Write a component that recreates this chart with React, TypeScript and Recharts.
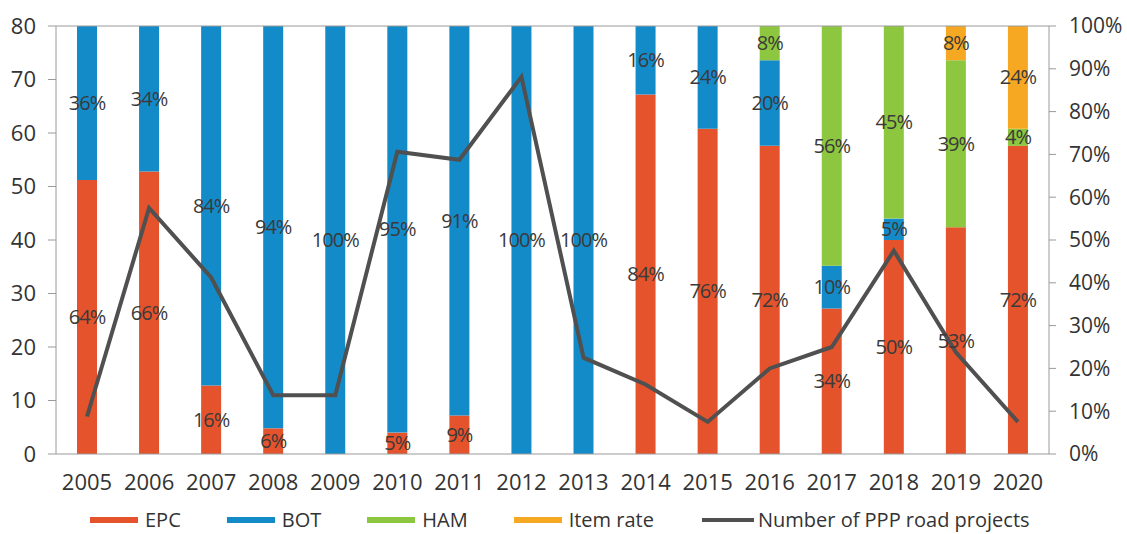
import React from 'react';
import {
  ComposedChart, Bar, Line, XAxis, YAxis, Legend, LabelList, ReferenceLine,
} from 'recharts';

const years = ['2005','2006','2007','2008','2009','2010','2011','2012','2013','2014','2015','2016','2017','2018','2019','2020'];
const epc  = [64, 66, 16, 6, 0, 5, 9, 0, 0, 84, 76, 72, 34, 50, 53, 72];
const bot  = [36, 34, 84, 94, 100, 95, 91, 100, 100, 16, 24, 20, 10, 5, 0, 0];
const ham  = [0, 0, 0, 0, 0, 0, 0, 0, 0, 0, 0, 8, 56, 45, 39, 4];
const itemRate = [0, 0, 0, 0, 0, 0, 0, 0, 0, 0, 0, 0, 0, 0, 8, 24];
const pppProjects = [7, 46, 33, 11, 11, 56.5, 55, 70.5, 18, 13, 6, 16, 20, 38, 19, 6];

const leftTicks = [0, 10, 20, 30, 40, 50, 60, 70, 80];
const rightTicks = [0, 10, 20, 30, 40, 50, 60, 70, 80, 90, 100];

const series = [
  { key: 'EPC', name: 'EPC', values: epc, color: '#E5532D' },
  { key: 'BOT', name: 'BOT', values: bot, color: '#148BC9' },
  { key: 'HAM', name: 'HAM', values: ham, color: '#8DC63F' },
  { key: 'Item', name: 'Item rate', values: itemRate, color: '#F7A823' },
];
const lineName = 'Number of PPP road projects';
const lineColor = '#505050';

const data = years.map((y, i) => {
  const row: any = { year: y, ppp: pppProjects[i] };
  series.forEach((s) => { row[s.key] = s.values[i]; });
  return row;
});

const FONT = '"Open Sans", sans-serif';
const TEXT = '#333333';
const AXIS = '#9a9a9a';

const fmt = (v: any) => (v && Number(v) > 0 ? `${v}%` : '');

const LegendContent = () => (
  <div style={{ display: 'flex', alignItems: 'center', height: 35, paddingLeft: 90, paddingTop: 6, boxSizing: 'border-box', fontFamily: FONT, fontSize: 20, color: TEXT }}>
    {series.map((s) => (
      <div key={s.key} style={{ display: 'flex', alignItems: 'center', marginRight: 46 }}>
        <span style={{ display: 'inline-block', width: 48, height: 6, background: s.color, marginRight: 7 }} />
        <span>{s.name}</span>
      </div>
    ))}
    <div style={{ display: 'flex', alignItems: 'center', marginLeft: 2 }}>
      <span style={{ display: 'inline-block', width: 52, height: 4, background: lineColor, marginRight: 4 }} />
      <span>{lineName}</span>
    </div>
  </div>
);

export default function App() {
  return (
    <div style={{ position: 'absolute', left: 0, top: 0, background: '#fff' }}>
      <ComposedChart
        width={1127}
        height={534}
        data={data}
        margin={{ top: 26, right: 0, left: 0, bottom: 0 }}
        barSize={20}
      >
        <XAxis
          dataKey="year"
          height={45}
          tickLine={false}
          tickMargin={14}
          stroke={AXIS}
          tick={{ fill: TEXT, fontSize: 22, fontFamily: FONT }}
          interval={0}
        />
        <YAxis
          yAxisId="left"
          orientation="left"
          domain={[0, 80]}
          ticks={leftTicks}
          width={56}
          tickSize={8}
          tickMargin={12}
          stroke={AXIS}
          tick={{ fill: TEXT, fontSize: 22, fontFamily: FONT }}
          interval={0}
        />
        <YAxis
          yAxisId="right"
          orientation="right"
          domain={[0, 100]}
          ticks={rightTicks}
          width={78}
          tickSize={7}
          tickMargin={13}
          stroke={AXIS}
          tickFormatter={(v) => `${v}%`}
          tick={{ fill: TEXT, fontSize: 21, fontFamily: FONT, textAnchor: 'start' }}
          interval={0}
        />
        <ReferenceLine yAxisId="left" y={80} stroke={AXIS} strokeWidth={1} ifOverflow="extendDomain" />
        {series.map((s) => (
          <Bar
            key={s.key}
            dataKey={s.key}
            name={s.name}
            stackId="a"
            yAxisId="right"
            fill={s.color}
            isAnimationActive={false}
          >
            <LabelList
              dataKey={s.key}
              position="center"
              formatter={fmt}
              fill="#3a3a3a"
              fontSize={20}
              fontFamily={FONT}
              letterSpacing={-1}
            />
          </Bar>
        ))}
        <Line
          yAxisId="left"
          dataKey="ppp"
          name={lineName}
          type="linear"
          stroke={lineColor}
          strokeWidth={4}
          dot={false}
          activeDot={false}
          isAnimationActive={false}
        />
        <Legend verticalAlign="bottom" height={35} content={<LegendContent />} wrapperStyle={{ left: 0, width: 1127 }} />
      </ComposedChart>
    </div>
  );
}
